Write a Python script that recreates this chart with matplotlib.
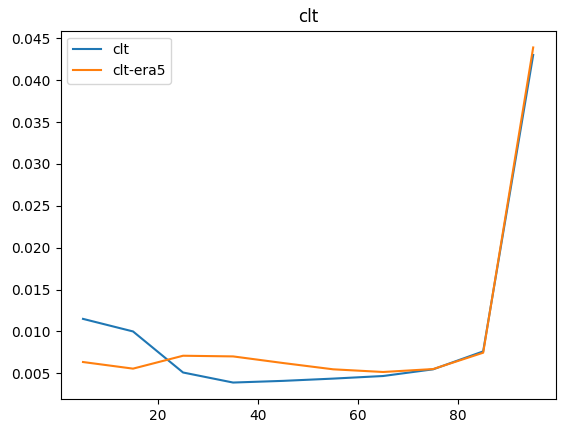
import matplotlib
matplotlib.use("Agg")
import matplotlib.pyplot as plt

x = [5, 15, 25, 35, 45, 55, 65, 75, 85, 95]
clt = [0.0115, 0.0100, 0.00510, 0.00390, 0.00410, 0.00437, 0.00468, 0.00548, 0.00762, 0.0430]
clt_era5 = [0.00635, 0.00556, 0.00710, 0.00702, 0.00623, 0.00548, 0.00516, 0.00551, 0.00746, 0.0439]

fig, ax = plt.subplots(figsize=(5.65, 4.33), dpi=100)
fig.subplots_adjust(left=60.5/565, right=555.7/565, top=1 - 30.7/433, bottom=1 - 399.3/433)
ax.plot(x, clt, label="clt")
ax.plot(x, clt_era5, label="clt-era5")
ax.set_title("clt")
ax.legend(loc="upper left")
fig.savefig("out.png", dpi=100)
